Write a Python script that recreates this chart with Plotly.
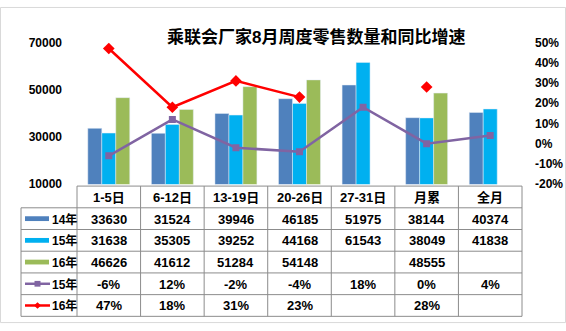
import plotly.graph_objects as go

# Canvas size in pixels
W, H = 566, 331

# ---- data ----
categories = ["1-5日", "6-12日", "13-19日", "20-26日", "27-31日", "月累", "全月"]
sales_14 = [33630, 31524, 39946, 46185, 51975, 38144, 40374]
sales_15 = [31638, 35305, 39252, 44168, 61543, 38049, 41838]
sales_16 = [46626, 41612, 51284, 54148, None, 48555, None]
growth_15 = [-6, 12, -2, -4, 18, 0, 4]
growth_16 = [47, 18, 31, 23, None, 28, None]
left_ticks = [10000, 30000, 50000, 70000]
right_ticks = [-20, -10, 0, 10, 20, 30, 40, 50]
title_text = "乘联会厂家8月周度零售数量和同比增速"

# ---- styling ----
FONT = "Liberation Sans, Noto Sans CJK SC, sans-serif"
C14, C15, C16 = "#4F81BD", "#00B0F0", "#9BBB59"
CP, CR = "#8064A2", "#FF0000"
GRID = "#8C8C8C"

# plot area (pixels)
PX0, PX1 = 77, 522
PY0, PY1 = 37, 185


def fx(px):
    return px / W


def fy(py):
    return 1 - py / H


fig = go.Figure()
fig.add_bar(x=categories, y=sales_14, name="14年", marker_color=C14)
fig.add_bar(x=categories, y=sales_15, name="15年", marker_color=C15)
fig.add_bar(x=categories, y=sales_16, name="16年", marker_color=C16)
fig.add_scatter(x=categories, y=growth_15, name="15年", yaxis="y2", mode="lines+markers",
                line=dict(color=CP, width=2.5), marker=dict(symbol="square", size=7, color=CP))
fig.add_scatter(x=categories, y=growth_16, name="16年", yaxis="y2", mode="lines+markers",
                connectgaps=False,
                line=dict(color=CR, width=2.5), marker=dict(symbol="diamond", size=9, color=CR))

tick_font = dict(family=FONT, size=12, color="#000000", weight="bold")

fig.update_layout(
    width=W, height=H,
    margin=dict(l=0, r=0, t=0, b=0),
    paper_bgcolor="white", plot_bgcolor="white",
    showlegend=False,
    barmode="group", bargap=0.34, bargroupgap=0,
    xaxis=dict(domain=[fx(PX0), fx(PX1)], type="category", showticklabels=False,
               showgrid=False, zeroline=False, showline=False, fixedrange=True),
    yaxis=dict(domain=[fy(PY1), fy(PY0)], range=[10000, 70000], tickmode="array",
               tickvals=left_ticks, ticktext=[str(v) for v in left_ticks],
               showgrid=False, zeroline=False, showline=False, tickfont=tick_font,
               ticklabelstandoff=14),
    yaxis2=dict(overlaying="y", side="right", range=[-20, 50], tickmode="array",
                tickvals=right_ticks, ticktext=[f"{v}%" for v in right_ticks],
                showgrid=False, zeroline=False, showline=False,
                tickfont=tick_font, ticklabelstandoff=12),
)

shapes = []
annotations = []

# chart border
shapes.append(dict(type="rect", xref="paper", yref="paper",
                   x0=fx(0.5), x1=fx(565.5), y0=fy(329.5), y1=fy(0.5),
                   line=dict(color="#D9D9D9", width=1)))

# title
annotations.append(dict(text=title_text, xref="paper", yref="paper", x=fx(316), y=fy(31),
                        showarrow=False, xanchor="center", yanchor="middle",
                        font=dict(family=FONT, size=17, color="#000000", weight="bold")))

# ---- data table below the plot ----
n = len(categories)
col_w = (PX1 - PX0) / n
LBL_X0 = 21
T_TOP, T_BOT = 187, 323
row_h = (T_BOT - T_TOP) / 6
rows_y = [T_TOP + i * row_h for i in range(7)]


def hline(y, x0, x1):
    shapes.append(dict(type="line", xref="paper", yref="paper", x0=fx(x0), x1=fx(x1),
                       y0=fy(y), y1=fy(y), line=dict(color=GRID, width=1)))


def vline(x, y0, y1):
    shapes.append(dict(type="line", xref="paper", yref="paper", x0=fx(x), x1=fx(x),
                       y0=fy(y0), y1=fy(y1), line=dict(color=GRID, width=1)))


hline(rows_y[0], PX0, PX1)
for y in rows_y[1:]:
    hline(y, LBL_X0, PX1)
vline(LBL_X0, rows_y[1], T_BOT)
for k in range(n + 1):
    vline(PX0 + k * col_w, T_TOP, T_BOT)

cell_font = dict(family=FONT, size=13, color="#000000", weight="bold")


def cell(text, col, row):
    annotations.append(dict(text=text, xref="paper", yref="paper",
                            x=fx(PX0 + (col + 0.5) * col_w),
                            y=fy(rows_y[row] + row_h / 2 + 0.5),
                            showarrow=False, xanchor="center", yanchor="middle",
                            font=cell_font))


for c, name in enumerate(categories):
    cell(name, c, 0)

table_rows = [
    ("14年", sales_14, "bar", C14, None),
    ("15年", sales_15, "bar", C15, None),
    ("16年", sales_16, "bar", C16, None),
    ("15年", growth_15, "line", CP, "square"),
    ("16年", growth_16, "line", CR, "diamond"),
]

for r, (label, vals, kind, color, sym) in enumerate(table_rows, start=1):
    cy = rows_y[r] + row_h / 2
    for c, v in enumerate(vals):
        if v is None:
            continue
        cell(f"{v}%" if kind == "line" else str(v), c, r)
    # legend key
    if kind == "bar":
        shapes.append(dict(type="rect", xref="paper", yref="paper",
                           x0=fx(25), x1=fx(49), y0=fy(cy + 2.5), y1=fy(cy - 2.5),
                           line=dict(width=0), fillcolor=color))
    else:
        shapes.append(dict(type="line", xref="paper", yref="paper",
                           x0=fx(25), x1=fx(50), y0=fy(cy), y1=fy(cy),
                           line=dict(color=color, width=2.5)))
        mx = 37.5
        if sym == "square":
            shapes.append(dict(type="rect", xref="paper", yref="paper",
                               x0=fx(mx - 3), x1=fx(mx + 3), y0=fy(cy + 3), y1=fy(cy - 3),
                               line=dict(width=0), fillcolor=color))
        else:
            d = 3.5
            path = (f"M {fx(mx - d)} {fy(cy)} L {fx(mx)} {fy(cy - d)} "
                    f"L {fx(mx + d)} {fy(cy)} L {fx(mx)} {fy(cy + d)} Z")
            shapes.append(dict(type="path", xref="paper", yref="paper", path=path,
                               line=dict(width=0), fillcolor=color))
    annotations.append(dict(text=label, xref="paper", yref="paper", x=fx(50), y=fy(cy + 0.5),
                            showarrow=False, xanchor="left", yanchor="middle",
                            font=dict(family=FONT, size=12, color="#000000", weight="bold")))

fig.update_layout(shapes=shapes, annotations=annotations)

fig.write_html("out.html", config={"displayModeBar": False})
